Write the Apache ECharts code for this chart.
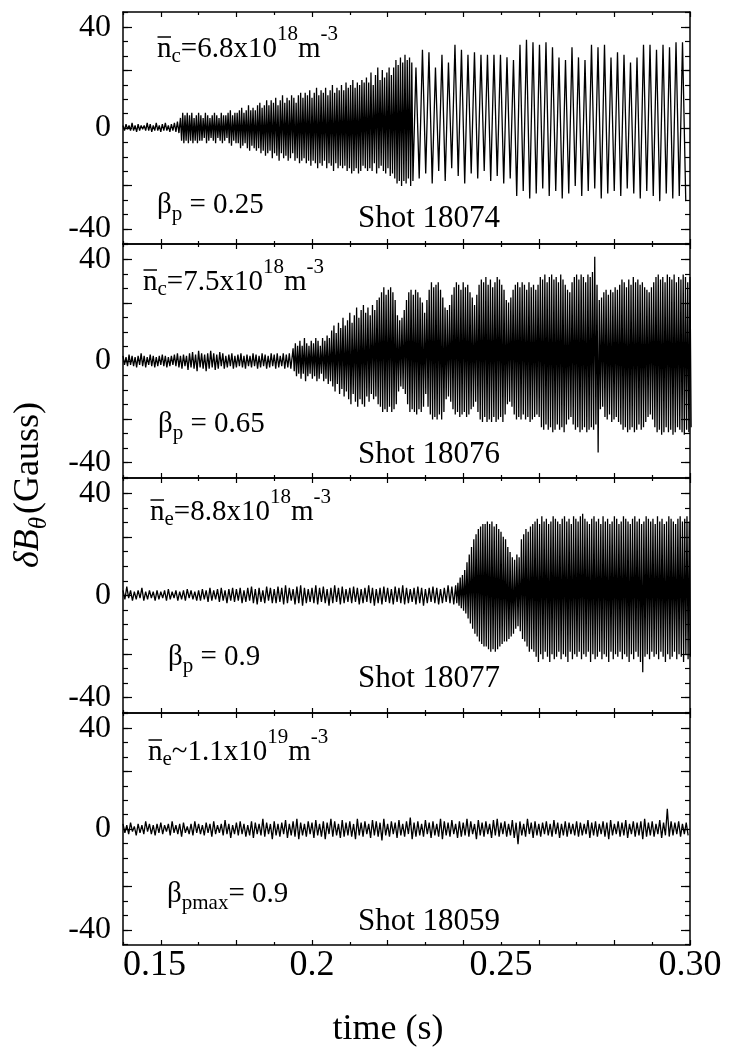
<!DOCTYPE html>
<html><head><meta charset="utf-8">
<script src="https://cdn.jsdelivr.net/npm/echarts@6/dist/echarts.min.js"></script>
<style>html,body{margin:0;padding:0;background:#fff;}#c{width:732px;height:1052px;}</style>
</head><body><div id="c"></div>
<script>
// ---------- axis data ----------
const X_MIN = 0.15, X_MAX = 0.30;
const X_TICK_VALUES = [0.15, 0.2, 0.25, 0.30];
const X_TICK_LABELS = ['0.15', '0.2', '0.25', '0.30'];
const X_MAJOR = [0.16, 0.18, 0.20, 0.22, 0.24, 0.26, 0.28, 0.30];
const X_MINOR = [0.15, 0.17, 0.19, 0.21, 0.23, 0.25, 0.27, 0.29];
const Y_MIN = -46, Y_MAX = 46;
const Y_TICK_VALUES = [-40, 0, 40];
const Y_TICK_LABELS = ['-40', '0', '40'];
const Y_MAJOR = [-40, -22.857, 0, 22.857, 40];
const Y_MINOR = [-45.714, -40, -34.286, -28.571, -22.857, -17.143, -11.429, -5.714, 0, 5.714, 11.429, 17.143, 22.857, 28.571, 34.286, 40, 45.714];
const X_NAME = 'time (s)';

// ---------- annotations ----------
const DENS_SUB = ['c', 'c', 'e', 'e'];
const DENS_REL = ['=', '=', '=', '~'];
const DENS_MANT = ['6.8x10', '7.5x10', '8.8x10', '1.1x10'];
const DENS_EXP = ['18', '18', '18', '19'];
const BETA_SUB = ['p', 'p', 'p', 'pmax'];
const BETA_REL = [' = ', ' = ', ' = ', '= '];
const BETA_VAL = ['0.25', '0.65', '0.9', '0.9'];
const SHOTS = ['Shot 18074', 'Shot 18076', 'Shot 18077', 'Shot 18059'];

// ---------- signal data (alternating maxima / minima) ----------
// Panel 1 (shot 18074)
const P1_NOISE_T0 = 0.150, P1_NOISE_STEP = 0.0008;
const P1_NOISE_HI = [1,1.5,1,2,1,1.5,1,1,2,1.5,1,2,1,1.5,2,1,1.5,2,2.5];
const P1_NOISE_LO = [-1,-0.5,-1,-1,-1.5,-1,-0.5,-1,-1,-1.5,-1,-1,-1.5,-1,-1,-1.5,-1,-1.5,-2];
const P1_BAND_T0 = 0.1652, P1_BAND_STEP = 0.0006;
const P1_BAND_HI = [4,6,5,6,5,6,4,5,6,
 5,4,6,5,4,5,6,5,4,6,5,5,6,7,5,6,
 6,7,8,6,7,9,7,8,7,9,10,8,9,11,
 9,11,10,12,9,11,13,10,12,11,13,12,10,13,14,
 12,14,13,15,12,14,16,13,15,14,16,13,15,17,14,16,15,
 17,15,18,16,17,19,16,18,17,19,18,20,
 18,22,17,21,24,19,23,20,22,24,21,
 24,27,25,28,26,29,27,28,26];
const P1_BAND_LO = [-5,-6,-5,-6,-5,-6,-5,-6,-5,
 -5,-4,-6,-5,-4,-5,-6,-4,-5,-6,-5,-4,-6,-7,-5,-6,
 -6,-8,-7,-6,-8,-9,-7,-8,-9,-8,-10,-9,-11,-10,
 -9,-12,-10,-11,-13,-10,-12,-11,-13,-12,-10,-13,-12,-14,-13,
 -12,-14,-13,-15,-13,-14,-16,-14,-15,-13,-16,-14,-15,-17,-14,-16,-15,
 -16,-15,-17,-16,-18,-17,-16,-18,-17,-15,-16,-17,
 -16,-17,-14,-18,-16,-15,-17,-18,-16,-19,-18,
 -20,-22,-21,-23,-21,-22,-20,-23,-21];
const P1_SPIKE_T0 = 0.2275, P1_SPIKE_STEP = 0.00172;
const P1_SPIKE_HI = [24,31,30,24,29,26,33,31,29,30,29,29,29,29,28,27,33,35,34,33,34,32,28,27,32,28,27,33,32,33,28,30,29,26,28,33,33,31,33,32,34,34];
const P1_SPIKE_LO = [-20,-18,-22,-17,-21,-16,-19,-22,-18,-20,-17,-21,-19,-22,-20,
 -27,-25,-28,-26,-24,-27,-25,-28,-26,-23,-27,-25,-24,-28,-26,-25,-27,-24,-26,-28,-25,-27,-29,-26,-28,-27,-29];

// Panel 2 (shot 18076)
const P2_NOISE_T0 = 0.150, P2_NOISE_STEP = 0.0008;
const P2_NOISE_HI = [2,1.5,2.5,2,1.5,2,3,2,1.5,2.5,2,1.5,2,2.5,2,1.5,2,2.5,3,2,2.5,2,3,3.5,2.5,4,3,2.5,3,4,3,2.5,3.5,3,2,2.5,3,2,2.5,3,2,2.5,2,3,2.5,2,3,2.5,2,3,2.5,3,2,3,2.5,3];
const P2_NOISE_LO = [-1.5,-2,-1.5,-2,-2.5,-1.5,-2,-2.5,-1.5,-2,-2.5,-2,-1.5,-2,-2.5,-2,-1.5,-2,-2.5,-3,-2,-3.5,-2.5,-3,-4,-2.5,-3,-4,-3,-2.5,-3.5,-3,-2,-3,-2.5,-2,-3,-2.5,-2,-2.5,-3,-2,-2.5,-2,-3,-2.5,-2,-3,-2.5,-2,-3,-2.5,-2,-3,-2.5,-3];
const P2_BAND_T0 = 0.195, P2_BAND_STEP = 0.0006;
const P2_BAND_HI = [5,7,6,8,6,9,7,6,8,7,9,8,6,9,8,10,9,
 12,14,11,15,13,17,14,16,19,15,18,21,17,20,22,
 19,21,18,22,20,24,
 25,27,29,26,28,29,27,24,
 18,16,17,20,
 24,27,28,26,28,27,25,23,
 19,
 24,28,31,29,30,31,28,25,
 21,20,22,
 26,29,31,30,28,31,29,30,27,25,
 22,
 26,30,32,31,33,30,32,29,31,33,32,30,28,
 24,23,25,
 28,30,31,29,31,30,28,31,29,30,28,
 30,33,32,34,31,33,34,32,33,31,34,32,30,
 28,27,
 31,33,34,32,34,33,31,34,33,35,41,
 30,24,25,
 27,28,26,28,27,29,28,
 30,32,31,29,32,30,33,31,32,30,31,29,
 28,27,29,
 31,33,34,32,33,31,34,33,32,34,31,33,32,34,33,31,33];
const P2_BAND_LO = [-4,-6,-5,-7,-5,-8,-6,-5,-7,-6,-8,-7,-5,-8,-7,-9,-8,
 -10,-12,-9,-13,-11,-14,-12,-15,-17,-13,-16,-18,-15,-17,-18,
 -14,-16,-13,-15,-14,-17,
 -18,-20,-19,-20,-18,-20,-19,-17,
 -12,-10,-11,-13,
 -17,-20,-19,-20,-21,-19,-20,-18,
 -13,
 -18,-21,-23,-22,-23,-21,-23,-20,
 -15,-14,-16,
 -19,-21,-20,-22,-21,-20,-22,-21,-19,-18,
 -16,
 -20,-23,-24,-22,-24,-23,-24,-22,-24,-23,-22,-24,-21,
 -17,-16,-18,
 -21,-23,-22,-23,-21,-23,-22,-24,-23,-22,-21,
 -22,-26,-27,-25,-27,-26,-28,-27,-25,-27,-26,-28,-25,
 -23,-22,
 -25,-27,-26,-28,-27,-26,-28,-27,-26,-27,-25,
 -36,-19,-18,
 -22,-23,-21,-24,-23,-22,-24,
 -25,-27,-26,-28,-27,-26,-28,-27,-25,-27,-26,-24,
 -22,-21,-23,
 -26,-28,-27,-29,-28,-26,-28,-27,-29,-28,-26,-27,-28,-29,-27,-28,-26];

// Panel 3 (shot 18077)
const P3_NOISE_T0 = 0.150, P3_NOISE_STEP = 0.001;
const P3_NOISE_HI = [2,3.5,2,1.5,2,3,1.5,2,1.5,2,
 1.5,2,2.5,1.5,2,1.5,2,2.5,2,1.5,
 2,2.5,2,3,2,2.5,3,2,2.5,3,
 2.5,3,2,3,3.5,2.5,3,2,3.5,3,
 2.5,3.5,3,4,3,2.5,3.5,4,3,2.5,
 3,4,3,3.5,2.5,3,4,3,3.5,2.5,
 3,3.5,3,2.5,3,4,3,2.5,3,3.5,
 3,2.5,3.5,3,4,3,2.5,3,3.5,3,
 2.5,3,3.5,3,2.5,3,4,3.5];
const P3_NOISE_LO = [-1.5,-1,-2,-1.5,-1,-2,-1.5,-1,-2,-1.5,
 -1,-2,-1.5,-1,-2,-1.5,-2,-1,-1.5,-2,
 -2,-1.5,-2.5,-2,-1.5,-2.5,-2,-3,-2,-2.5,
 -2,-3,-2.5,-2,-3,-3.5,-2.5,-3,-2,-3,
 -3,-2.5,-3.5,-3,-2,-3.5,-3,-4,-3,-2.5,
 -3,-3.5,-2.5,-3,-4,-3,-2.5,-3.5,-3,-2.5,
 -3,-2.5,-3.5,-3,-2.5,-3,-4,-3,-3.5,-2.5,
 -3,-3.5,-2.5,-3,-3.5,-3,-2.5,-3.5,-3,-4,
 -3,-2.5,-3,-3.5,-3,-2.5,-3,-3.5];
const P3_BAND_T0 = 0.238, P3_BAND_STEP = 0.0006;
const P3_BAND_HI = [4,5,7,8,
 10,13,16,19,
 22,24,26,27,28,
 28,29,28,29,27,28,
 26,25,23,22,19,17,
 15,14,16,15,
 22,24,26,25,27,28,
 29,30,28,31,29,30,28,29,31,30,
 29,28,30,31,29,30,28,31,30,29,
 31,32,30,29,28,30,31,29,30,28,
 31,29,30,28,29,31,30,28,29,31,
 30,29,28,30,31,29,30,28,29,31,
 30,29,30,28,31,29,30,28,29,31,
 30,29,28,30,31,29,30,31,29];
const P3_BAND_LO = [-3,-4,-5,-6,
 -7,-9,-11,-13,
 -15,-16,-18,-19,-20,
 -20,-21,-22,-21,-22,-21,
 -20,-19,-18,-18,-17,-16,
 -15,-13,-12,-14,
 -17,-18,-20,-22,-21,-22,
 -24,-26,-23,-25,-22,-24,-26,-23,-25,-24,
 -22,-25,-23,-24,-26,-22,-25,-23,-24,-22,
 -25,-23,-24,-22,-26,-23,-25,-24,-22,-25,
 -23,-24,-26,-22,-25,-23,-24,-22,-25,-23,
 -24,-26,-23,-25,-22,-24,-26,-30,-24,-23,
 -25,-22,-24,-23,-25,-22,-24,-26,-23,-25,
 -24,-22,-25,-23,-24,-26,-23,-25,-24];

// Panel 4 (shot 18059)
const P4_NOISE_T0 = 0.150, P4_NOISE_STEP = 0.001;
const P4_NOISE_HI = [2,1.5,2.5,1,2,1.5,3,2,1.5,2,
 2.5,1.5,2,3,1.5,2,2.5,1,2,3,
 2,1.5,2.5,2,3,1.5,2,3.5,2,1.5,
 2.5,3,2,1.5,3,2.5,2,4,2.5,2,
 3,2,2.5,3.5,2,3,4,2.5,2,3,
 2.5,3.5,2,3,2.5,4,3,2,3.5,2.5,
 3,2,4,2.5,3,2,3.5,3,2.5,4,
 2,3,2.5,3.5,2,3,4.5,2.5,3,2,
 3.5,2.5,3,2,4,3,2.5,3.5,2,3,
 2.5,4,3,2,3.5,2.5,3,2,3.5,4,
 2.5,3,2,3.5,2.5,3,2,4,2.5,3,
 2,2.5,3,2,3.5,2.5,2,3,2.5,2,
 3,2.5,2,3.5,2.5,3,2,3,2.5,3.5,
 2,3,2.5,3.5,2,3,2.5,3,4,2.5,
 3,2,3.5,2.5,8,3,2.5,3,2,2.5];
const P4_NOISE_LO = [-1.5,-2,-1,-2.5,-1.5,-2,-1,-2,-2.5,-1.5,
 -2,-1,-2.5,-1.5,-2,-3,-1.5,-2,-2.5,-1.5,
 -2,-2.5,-1.5,-3,-2,-1.5,-2.5,-2,-3.5,-2,
 -2.5,-2,-3,-2.5,-3.5,-2,-2.5,-3,-2,-4,
 -2.5,-3,-2,-3.5,-2.5,-3,-4,-2.5,-3,-2,
 -3.5,-2.5,-3,-4,-2,-3,-2.5,-3.5,-3,-2.5,
 -3,-4,-2.5,-3,-2,-3.5,-2.5,-3,-4.5,-2.5,
 -3,-2,-3.5,-2.5,-3,-2,-4,-3,-2.5,-3,
 -2,-3.5,-2.5,-3,-4,-2.5,-3,-2,-3.5,-3,
 -2.5,-3,-2,-4,-2.5,-3,-2,-3.5,-2.5,-3,
 -2,-3,-2.5,-3.5,-6,-2.5,-3,-2,-3.5,-2.5,
 -3,-2,-2.5,-3,-2,-3.5,-2.5,-3,-2,-2.5,
 -3,-2.5,-2,-3.5,-2.5,-3,-2,-3,-4,-2.5,
 -2,-3,-2.5,-3.5,-2,-3,-2.5,-4,-3,-2.5,
 -3,-2,-3.5,-2.5,-3,-2.5,-2,-3,-2,-2.5];

// ---------- build ----------
function wave(t0, step, hi, lo) {
  const pts = [];
  for (let i = 0; i < hi.length; i++) {
    pts.push([t0 + i * step, hi[i]]);
    if (i < lo.length) pts.push([t0 + (i + 0.5) * step, lo[i]]);
  }
  return pts;
}
const PANEL_DATA = [
  [].concat(wave(P1_NOISE_T0, P1_NOISE_STEP, P1_NOISE_HI, P1_NOISE_LO),
            wave(P1_BAND_T0, P1_BAND_STEP, P1_BAND_HI, P1_BAND_LO),
            wave(P1_SPIKE_T0, P1_SPIKE_STEP, P1_SPIKE_HI, P1_SPIKE_LO)),
  [].concat(wave(P2_NOISE_T0, P2_NOISE_STEP, P2_NOISE_HI, P2_NOISE_LO),
            wave(P2_BAND_T0, P2_BAND_STEP, P2_BAND_HI, P2_BAND_LO)),
  [].concat(wave(P3_NOISE_T0, P3_NOISE_STEP, P3_NOISE_HI, P3_NOISE_LO),
            wave(P3_BAND_T0, P3_BAND_STEP, P3_BAND_HI, P3_BAND_LO)),
  wave(P4_NOISE_T0, P4_NOISE_STEP, P4_NOISE_HI, P4_NOISE_LO)
];

const FONT = 'Liberation Serif';
const PANEL_TOPS = [12, 244, 478, 713];
const PANEL_H = [232, 234, 235, 232];
const LEFT = 123, WIDTH = 567;
const BLACK = '#000';

const grids = [], xAxes = [], yAxes = [], series = [];
function pickLabel(vals, labels, v) {
  for (let i = 0; i < vals.length; i++) if (Math.abs(vals[i] - v) < 1e-6) return labels[i];
  return '';
}
PANEL_TOPS.forEach((top, g) => {
  grids.push({ left: LEFT, top: top, width: WIDTH, height: PANEL_H[g], containLabel: false, outerBoundsMode: 'none' });
  const xb = { type: 'value', gridIndex: g, min: X_MIN, max: X_MAX, splitLine: { show: false } };
  const line = { show: true, onZero: false, lineStyle: { color: BLACK, width: 1.5 } };
  const noLine = { show: false, onZero: false };
  const tick = (len, vals) => ({ show: true, inside: true, length: len, customValues: vals, lineStyle: { color: BLACK, width: 1.2 } });
  xAxes.push(Object.assign({}, xb, {
    position: 'bottom', axisLine: line, axisTick: tick(5, X_MAJOR),
    axisLabel: g === 3 ? {
      show: true, customValues: X_TICK_VALUES, formatter: v => pickLabel(X_TICK_VALUES, X_TICK_LABELS, v),
      fontFamily: FONT, fontSize: 36, color: BLACK, margin: 3, alignMinLabel: 'left'
    } : { show: false }
  }));
  xAxes.push(Object.assign({}, xb, { position: 'bottom', axisLine: noLine, axisTick: tick(3, X_MINOR), axisLabel: { show: false } }));
  xAxes.push(Object.assign({}, xb, { position: 'top', axisLine: line, axisTick: tick(5, X_MAJOR), axisLabel: { show: false } }));
  xAxes.push(Object.assign({}, xb, { position: 'top', axisLine: noLine, axisTick: tick(3, X_MINOR), axisLabel: { show: false } }));

  const yb = { type: 'value', gridIndex: g, min: Y_MIN, max: Y_MAX, splitLine: { show: false } };
  yAxes.push(Object.assign({}, yb, {
    position: 'left', axisLine: line, axisTick: tick(9, Y_MAJOR),
    axisLabel: { show: true, customValues: Y_TICK_VALUES, formatter: v => pickLabel(Y_TICK_VALUES, Y_TICK_LABELS, v),
      fontFamily: FONT, fontSize: 32, color: BLACK, margin: 12 }
  }));
  yAxes.push(Object.assign({}, yb, { position: 'left', axisLine: noLine, axisTick: tick(5, Y_MINOR), axisLabel: { show: false } }));
  yAxes.push(Object.assign({}, yb, { position: 'right', axisLine: line, axisTick: tick(9, Y_MAJOR), axisLabel: { show: false } }));
  yAxes.push(Object.assign({}, yb, { position: 'right', axisLine: noLine, axisTick: tick(5, Y_MINOR), axisLabel: { show: false } }));

  series.push({
    type: 'line', xAxisIndex: 4 * g, yAxisIndex: 4 * g, data: PANEL_DATA[g],
    showSymbol: false, symbol: 'none', sampling: null, clip: true, silent: true,
    lineStyle: { color: BLACK, width: 1.3 }
  });
});

// ---------- annotations ----------
const ANN = [
  { nx: 157, nb: 57, bx: 157, bb: 213, sx: 358, sb: 227 },
  { nx: 143, nb: 290, bx: 158, bb: 432, sx: 358, sb: 463 },
  { nx: 150, nb: 520, bx: 168, bb: 665, sx: 358, sb: 687 },
  { nx: 148, nb: 760, bx: 167, bb: 902, sx: 358, sb: 930 }
];
const MF = 29, ML = 46, MPAD = 6;
const rich = {
  m: { fontFamily: FONT, fontSize: MF, lineHeight: ML, verticalAlign: 'bottom', fill: BLACK, padding: [0, 0, MPAD, 0] },
  sub: { fontFamily: FONT, fontSize: 21, lineHeight: 30, verticalAlign: 'bottom', fill: BLACK, padding: [0, 0, 3, 0] },
  bsub: { fontFamily: FONT, fontSize: 21, lineHeight: 30, verticalAlign: 'bottom', fill: BLACK, padding: [0, 0, 1, 0] },
  sup: { fontFamily: FONT, fontSize: 21, lineHeight: 21, verticalAlign: 'top', fill: BLACK }
};
const yFromBase = b => b + 0.248 * MF + MPAD;
const graphic = [];
ANN.forEach((a, g) => {
  graphic.push({ type: 'text', x: a.nx, y: yFromBase(a.nb), silent: true, style: {
    text: `{m|n}{sub|${DENS_SUB[g]}}{m|${DENS_REL[g]}${DENS_MANT[g]}}{sup|${DENS_EXP[g]}}{m|m}{sup|-3}`,
    rich: rich, align: 'left', verticalAlign: 'bottom' } });
  graphic.push({ type: 'line', silent: true, shape: { x1: a.nx + 0.5, y1: a.nb - 20, x2: a.nx + 14, y2: a.nb - 20 },
    style: { stroke: BLACK, lineWidth: 1.5 } });
  graphic.push({ type: 'text', x: a.bx, y: yFromBase(a.bb), silent: true, style: {
    text: `{m|β}{bsub|${BETA_SUB[g]}}{m|${BETA_REL[g]}${BETA_VAL[g]}}`,
    rich: rich, align: 'left', verticalAlign: 'bottom' } });
  graphic.push({ type: 'text', x: a.sx, y: a.sb - 0.252 * 31, silent: true, style: {
    text: SHOTS[g], fontFamily: FONT, fontSize: 31, fill: BLACK, align: 'left', verticalAlign: 'middle' } });
});
graphic.push({ type: 'text', x: 30, y: 485, rotation: Math.PI / 2, silent: true, style: {
  text: '{it|δB}{its|θ}{r|(Gauss)}', align: 'center', verticalAlign: 'middle',
  rich: {
    it: { fontFamily: FONT, fontStyle: 'italic', fontSize: 36, lineHeight: 44, verticalAlign: 'bottom', fill: BLACK, padding: [0, 0, 5, 0] },
    its: { fontFamily: FONT, fontStyle: 'italic', fontSize: 25, lineHeight: 26, verticalAlign: 'bottom', fill: BLACK },
    r: { fontFamily: FONT, fontSize: 36, lineHeight: 44, verticalAlign: 'bottom', fill: BLACK, padding: [0, 0, 5, 3] }
  } } });
graphic.push({ type: 'text', x: 388, y: 1030, silent: true, style: {
  text: X_NAME, fontFamily: FONT, fontSize: 36, fill: BLACK, align: 'center', verticalAlign: 'middle' } });

const chart = echarts.init(document.getElementById('c'), null, { renderer: 'canvas' });
chart.setOption({
  backgroundColor: '#fff',
  animation: false,
  grid: grids,
  xAxis: xAxes,
  yAxis: yAxes,
  series: series,
  graphic: graphic
});
</script></body></html>
